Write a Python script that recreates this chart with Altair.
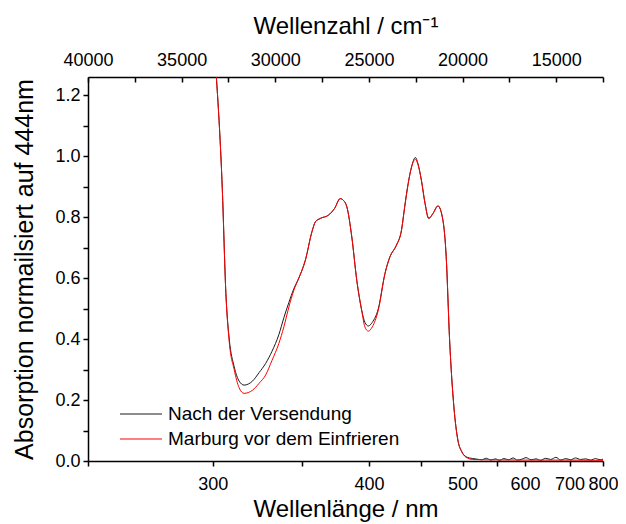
import altair as alt
import pandas as pd

# ---------------- data ----------------
series_names = ["Nach der Versendung", "Marburg vor dem Einfrieren"]
series_colors = ["#1a1a1a", "#ff0000"]

nm_main = [300.0, 301.8, 304.6, 306.4, 308.1, 310.6, 313.2, 315.8, 320.3, 324.0,
           327.7, 331.4, 335.5, 338.5, 341.6, 344.7, 347.9, 352.2, 356.6, 359.0,
           362.4, 368.3, 372.7, 376.9, 379.4, 382.0, 385.9, 389.9, 393.9, 396.6,
           399.5, 402.9, 408.2, 414.2, 418.8, 425.0, 429.9, 433.1, 436.6, 440.1,
           444.1, 446.9, 450.5, 454.5, 458.6, 463.4, 469.2, 475.1, 479.1, 483.3,
           488.7, 493.8, 499.1, 504.8, 514.0]

abs_black_main = [1.40, 1.249, 0.895, 0.55, 0.40, 0.31, 0.262, 0.249, 0.262, 0.29,
                  0.32, 0.36, 0.415, 0.47, 0.52, 0.565, 0.600, 0.659, 0.752, 0.785,
                  0.796, 0.807, 0.829, 0.861, 0.855, 0.834, 0.735, 0.593, 0.495, 0.455,
                  0.443, 0.455, 0.50, 0.615, 0.67, 0.708, 0.757, 0.834, 0.91, 0.965,
                  0.996, 0.975, 0.921, 0.845, 0.796, 0.812, 0.837, 0.79, 0.67, 0.397,
                  0.178, 0.069, 0.03, 0.014, 0.008]

abs_red_main = [1.40, 1.249, 0.895, 0.55, 0.39, 0.30, 0.24, 0.222, 0.232, 0.255,
                0.282, 0.33, 0.386, 0.44, 0.505, 0.56, 0.600, 0.659, 0.752, 0.785,
                0.796, 0.807, 0.829, 0.861, 0.855, 0.834, 0.735, 0.593, 0.495, 0.44,
                0.426, 0.44, 0.495, 0.615, 0.67, 0.708, 0.757, 0.834, 0.91, 0.965,
                0.99, 0.972, 0.921, 0.845, 0.796, 0.812, 0.837, 0.79, 0.67, 0.397,
                0.178, 0.069, 0.03, 0.012, 0.005]

nm_tail_black = [520, 527, 534, 541, 548, 555, 562, 570, 578, 586, 594, 602, 612, 622,
                 632, 642, 654, 666, 678, 690, 703, 716, 730, 745, 760, 775, 790, 800]
abs_tail_black = [0.006, 0.004, 0.009, 0.003, 0.007, 0.002, 0.008, 0.004, 0.010, 0.003,
                  0.006, 0.011, 0.004, 0.007, 0.002, 0.009, 0.005, 0.012, 0.003, 0.008,
                  0.004, 0.010, 0.005, 0.007, 0.003, 0.008, 0.004, 0.006]

nm_tail_red = [530, 600, 700, 800]
abs_tail_red = [0.004, 0.003, 0.003, 0.002]

bottom_tick_nm = [250, 300, 350, 400, 450, 500, 550, 600, 700, 800]
bottom_label_nm = [300, 400, 500, 600, 700, 800]
top_tick_wn = list(range(12500, 40001, 2500))
y_ticks = [round(0.1 * i, 1) for i in range(13)]

# ---------------- table ----------------
rows = []
for nm, a in zip(nm_main + nm_tail_black, abs_black_main + abs_tail_black):
    rows.append({"nm": nm, "A": a, "series": series_names[0]})
for nm, a in zip(nm_main + nm_tail_red, abs_red_main + abs_tail_red):
    rows.append({"nm": nm, "A": a, "series": series_names[1]})
df = pd.DataFrame(rows)

FONT = "Liberation Sans"
LABEL_FS = 18
TITLE_FS = 24

xscale = alt.Scale(domain=[12500, 40000], reverse=True, nice=False, zero=False)
yscale = alt.Scale(domain=[0, 1.26], nice=False, zero=False)

yaxis = alt.Axis(values=y_ticks,
                 labelExpr="(round(datum.value*10) % 2 == 0) ? format(datum.value, '.1f') : ''",
                 title="Absorption normailsiert auf  444nm", titleFontSize=25,
                 titlePadding=17, labelFontSize=LABEL_FS, tickSize=5, labelPadding=3,
                 grid=False, domainWidth=1.5, tickWidth=1.5)

bottom_axis = alt.Axis(orient="bottom", values=[1e7 / v for v in bottom_tick_nm],
                       labelExpr="indexof(" + str(bottom_label_nm) + ", round(1e7/datum.value)) >= 0 ? format(round(1e7/datum.value), 'd') : ''",
                       labelOverlap=False, labelFlush=False, tickSize=5, labelPadding=9,
                       labelFontSize=LABEL_FS, title="Wellenlänge / nm", titleFontSize=TITLE_FS,
                       titlePadding=4, grid=False, domainWidth=1.5, tickWidth=1.5)

top_axis = alt.Axis(orient="top", values=top_tick_wn, offset=-5, domain=False,
                    labelExpr="datum.value % 5000 == 0 ? format(datum.value, 'd') : ''",
                    labelOverlap=False, labelFlush=False, tickSize=5, labelPadding=8,
                    labelFontSize=LABEL_FS, title="Wellenzahl / cm⁻¹", titleFontSize=TITLE_FS,
                    titlePadding=13, grid=False, tickWidth=1.5)

frame_axis = alt.Axis(orient="top", domain=True, ticks=False, labels=False, title="",
                      grid=False, domainWidth=1.5)

# legend line drawn as a wide custom path (42 px long) on a small symbol cell
color = alt.Color("series:N", scale=alt.Scale(domain=series_names, range=series_colors),
                  legend=alt.Legend(title=None, orient="none", legendX=42, legendY=326,
                                    symbolType="M-2,0H2", symbolSize=441,
                                    symbolStrokeWidth=1, labelFontSize=19,
                                    labelFont=FONT, labelOffset=16, rowPadding=4,
                                    labelLimit=400))

base = alt.Chart(df).transform_calculate(wn="1e7 / datum.nm")

black = base.transform_filter(alt.datum.series == series_names[0]).mark_line(
    strokeWidth=1, clip=True, interpolate="monotone").encode(
    x=alt.X("wn:Q", scale=xscale, axis=bottom_axis),
    y=alt.Y("A:Q", scale=yscale, axis=yaxis),
    color=color)

red = base.transform_filter(alt.datum.series == series_names[1]).mark_line(
    strokeWidth=1, clip=True, interpolate="monotone").encode(
    x=alt.X("wn:Q", scale=xscale, axis=top_axis),
    y=alt.Y("A:Q", scale=yscale, axis=yaxis),
    color=color)

frame = base.transform_filter(alt.datum.series == series_names[1]).mark_line(
    strokeOpacity=0, clip=True).encode(
    x=alt.X("wn:Q", scale=xscale, axis=frame_axis),
    y=alt.Y("A:Q", scale=yscale, axis=yaxis))

chart = alt.layer(black, red, frame).resolve_axis(x="independent").properties(
    width=515, height=384, autosize=alt.AutoSizeParams(type="none"),
    padding={"left": 80, "top": 69, "right": 15, "bottom": 62}
).configure_view(stroke=None).configure_axis(
    labelFont=FONT, titleFont=FONT, labelColor="black", titleColor="black",
    domainColor="black", tickColor="black", titleFontWeight="normal"
).configure_legend(labelColor="black")

chart.save("out.html", embed_options={"renderer": "svg", "actions": False})
